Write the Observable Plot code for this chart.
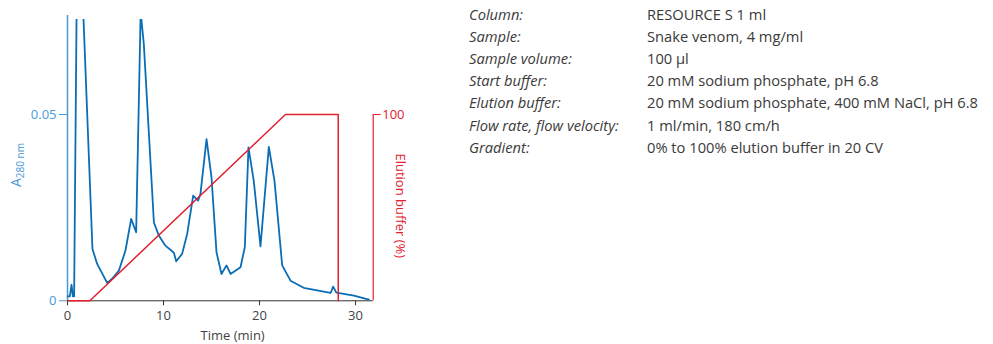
<!DOCTYPE html>
<html>
<head>
<meta charset="utf-8">
<script src="https://cdn.jsdelivr.net/npm/d3@7"></script>
<script src="https://cdn.jsdelivr.net/npm/@observablehq/plot@0.6"></script>
<style>
  body { margin: 0; background: #fff; width: 993px; height: 344px; position: relative; overflow: hidden; font-family: "Open Sans", sans-serif; }
  #chart { position: absolute; left: 0; top: 0; }
  #info { position: absolute; left: 469px; top: 2.5px; font-size: 14.7px; line-height: 22.2px; color: #3a3a3a; }
  #info .row { display: flex; white-space: nowrap; }
  #info .k { width: 178px; font-style: italic; }
</style>
</head>
<body>
<div id="chart"></div>
<div id="info"></div>
<script>
// Absorbance trace (time in min, A280); the two big peaks run off the top of the chart
const traceTime = [0, 0.24, 0.42, 0.56, 0.69, 0.94, 1.3, 1.67, 2.6, 3.09, 4.13, 4.65, 5.35, 6.04, 6.63, 7.15, 7.62, 7.95, 9.0, 9.51, 10.2, 11.08, 11.32, 11.94, 12.47, 13.09, 13.6, 13.85, 14.48, 15.0, 15.52, 16.04, 16.56, 16.98, 18.02, 18.47, 18.85, 19.4, 20.1, 20.97, 21.56, 22.36, 23.23, 24.6, 27.4, 27.67, 28.0, 29.83, 31.4];
const traceA = [0.0012, 0.0012, 0.0043, 0.0012, 0.0012, 0.0755, 0.1, 0.0755, 0.0139, 0.0099, 0.0048, 0.0059, 0.0081, 0.0135, 0.0220, 0.0184, 0.0775, 0.0689, 0.0210, 0.0175, 0.0148, 0.0129, 0.0106, 0.0126, 0.0180, 0.0282, 0.0269, 0.0287, 0.0434, 0.0331, 0.0130, 0.0072, 0.0095, 0.0072, 0.0090, 0.0144, 0.0412, 0.0322, 0.0146, 0.0413, 0.0322, 0.0095, 0.0054, 0.0035, 0.0021, 0.0038, 0.0022, 0.0014, 0.0003];

// Gradient (time in min, elution buffer %)
const gradTime = [0, 2.33, 22.7, 28.2, 28.2];
const gradPct = [0, 0, 100, 100, 0];

const xTicks = [0, 10, 20, 30];
const yTicks = [0, 0.05];
const yTickLabels = ["0", "0.05"];
const rightTickPct = [100];

const infoKeys = ["Column:", "Sample:", "Sample volume:", "Start buffer:", "Elution buffer:", "Flow rate, flow velocity:", "Gradient:"];
const infoVals = ["RESOURCE S 1 ml", "Snake venom, 4 mg/ml", "100 µl", "20 mM sodium phosphate, pH 6.8", "20 mM sodium phosphate, 400 mM NaCl, pH 6.8", "1 ml/min, 180 cm/h", "0% to 100% elution buffer in 20 CV"];

const trace = traceTime.map((t, i) => ({t, a: traceA[i]}));
// gradient % mapped onto absorbance axis: 100% aligns with 0.05
const pctScale = 0.05 / 100;
const grad = gradTime.map((t, i) => ({t, y: gradPct[i] * pctScale}));

const xMax = 31.84, yMax = 0.0755, axisTop = 0.0766;
const blue = "#0a6db5", axisBlue = "#4a98d6", red = "#e2202e", gray = "#444";

const plot = Plot.plot({
  width: 430,
  height: 344,
  marginLeft: 67,
  marginRight: 57.3,
  marginTop: 19,
  marginBottom: 43.7,
  style: {fontFamily: "Open Sans, sans-serif", fontSize: "13px", background: "transparent", overflow: "visible"},
  x: {domain: [0, xMax]},
  y: {domain: [0, yMax]},
  marks: [
    Plot.ruleX([0], {y1: 0, y2: axisTop, stroke: axisBlue, strokeWidth: 1.5}),
    Plot.ruleY([0], {x1: 0, x2: xMax, stroke: "#333", strokeWidth: 1}),
    Plot.ruleX([xMax], {y1: 0, y2: 0.05, stroke: red, strokeWidth: 1.2}),
    Plot.axisX({ticks: xTicks, tickSize: 5, tickPadding: 5, stroke: "#333", color: gray, label: null, tickFormat: d => String(d)}),
    Plot.axisY({ticks: yTicks, tickSize: 8, tickPadding: 3, stroke: axisBlue, color: axisBlue, label: null, tickFormat: d => yTickLabels[yTicks.indexOf(d)]}),
    Plot.axisY({anchor: "right", ticks: rightTickPct.map(p => p * pctScale), tickSize: 7, tickPadding: 2, stroke: red, color: red, label: null, tickFormat: (d, i) => String(rightTickPct[i])}),
    Plot.line(trace, {x: "t", y: "a", stroke: blue, strokeWidth: 1.8, clip: true}),
    Plot.line(grad, {x: "t", y: "y", stroke: red, strokeWidth: 1.5}),
    Plot.text(["Time (min)"], {x: 17.2, y: 0, dy: 35, fill: gray, fontSize: 13}),
    Plot.text(["Elution buffer (%)"], {x: xMax, y: 0.0255, dx: 27, rotate: 90, fill: red, fontSize: 13})
  ]
});
document.getElementById("chart").appendChild(plot);

// A280 nm label with subscript
const svg = d3.select(plot);
const lab = svg.append("text")
  .attr("transform", "translate(21,165) rotate(-90)")
  .attr("text-anchor", "middle")
  .attr("fill", axisBlue)
  .attr("font-family", "Open Sans, sans-serif")
  .attr("font-size", 14);
lab.append("tspan").text("A");
lab.append("tspan").attr("font-size", 10).attr("dy", 3).text("280 nm");

const info = d3.select("#info");
infoKeys.forEach((k, i) => {
  const r = info.append("div").attr("class", "row");
  r.append("span").attr("class", "k").text(k);
  r.append("span").text(infoVals[i]);
});
</script>
</body>
</html>
